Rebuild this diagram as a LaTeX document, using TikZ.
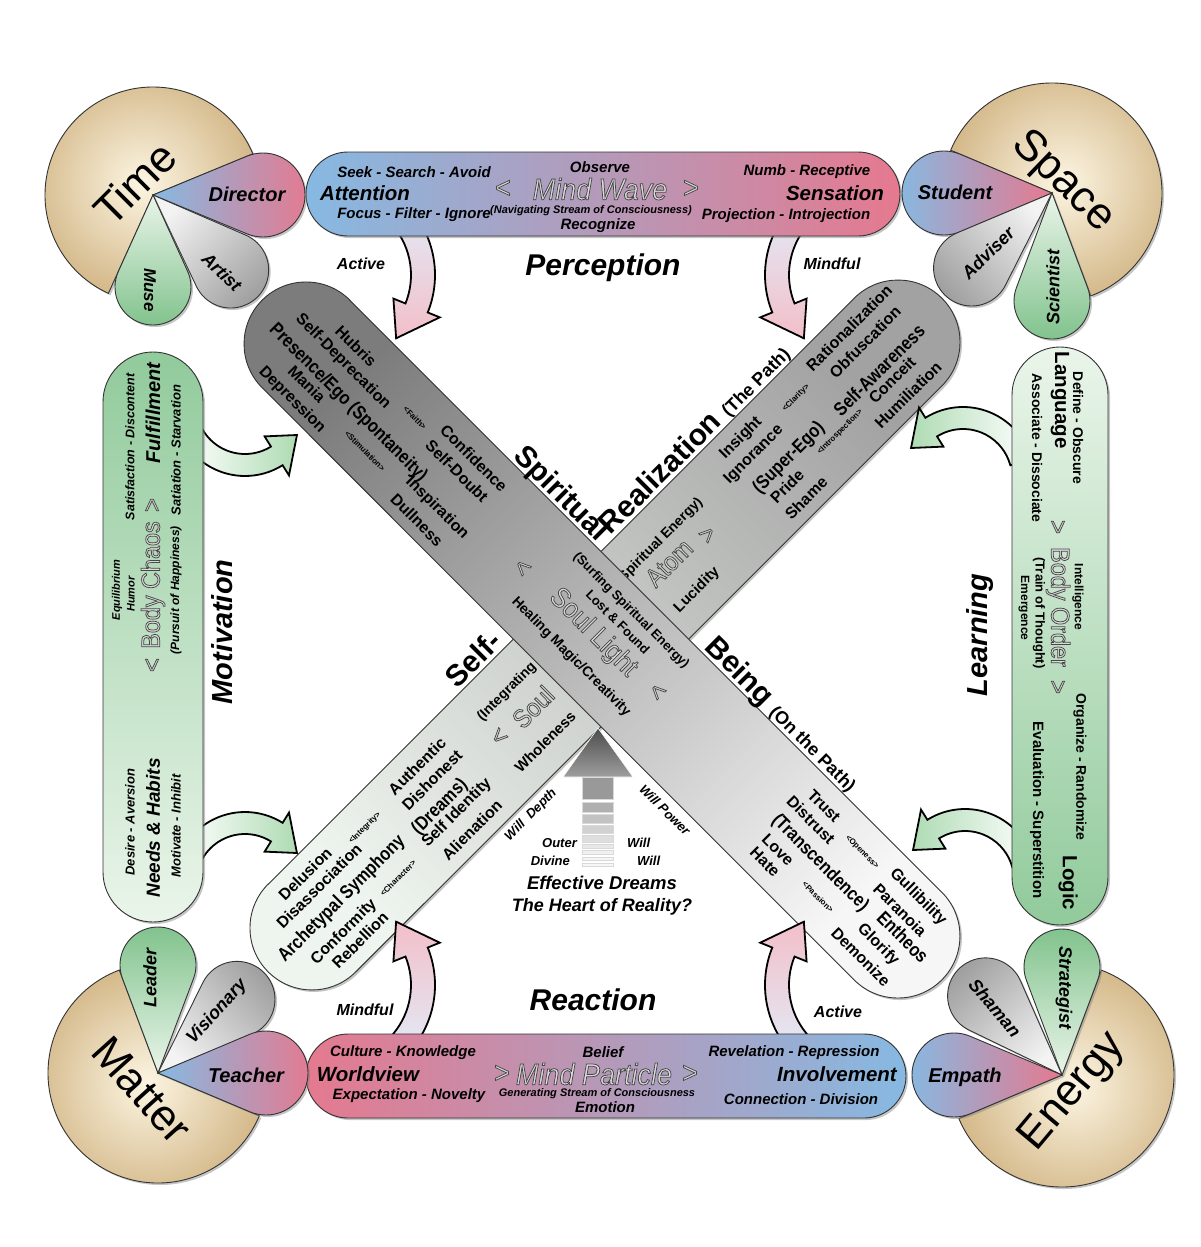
\documentclass[tikz,border=0pt]{standalone}
\usepackage{fontspec}
\setmainfont{Liberation Sans}
\newfontfamily\cf[FakeStretch=0.85]{Liberation Sans}
\newfontfamily\of[FakeStretch=0.9]{Liberation Sans}
\usetikzlibrary{calc,shadows}
\newcommand{\fz}[1]{\fontsize{#1}{#1}\selectfont}
\definecolor{tanL}{HTML}{FCF5E2}
\definecolor{tanD}{HTML}{D5BA8C}
\definecolor{blueP}{HTML}{86B9E2}
\definecolor{pinkP}{HTML}{E5798F}
\definecolor{grnL}{HTML}{EAF5EA}
\definecolor{grnD}{HTML}{7EC18A}
\definecolor{gryL}{HTML}{F3F3F3}
\definecolor{gryD}{HTML}{A0A0A0}
\definecolor{barAd}{HTML}{7C7C7C}
\definecolor{barAl}{HTML}{F6F6F6}
\definecolor{barBl}{HTML}{EEF4EE}
\definecolor{barBd}{HTML}{A2A2A2}
\definecolor{arPk}{HTML}{F2BFC9}
\definecolor{arBl}{HTML}{E3E9F5}
\definecolor{arGn}{HTML}{AEDBB3}
\definecolor{olL}{HTML}{DADADA}
\tikzset{
  bi/.style={font=\bfseries\itshape\fz{#1}, inner sep=0pt},
  bd/.style={font=\bfseries\fz{#1}, inner sep=0pt},
  bc/.style={font=\cf\bfseries\fz{#1}, inner sep=0pt},
  rg/.style={font=\fz{#1}, inner sep=0pt},
  ol/.style={draw=black!80, line width=0.9pt},
  shd/.style={drop shadow={shadow xshift=2pt, shadow yshift=-2pt, opacity=0.45}},
  arw/.style={draw=black, line width=1.8pt, line join=miter},
  pbp/.style={left color=blueP, right color=pinkP},
  pgr/.style={top color=gryD, bottom color=gryL, shading angle=#1},
  pgn/.style={top color=grnD, bottom color=grnL, shading angle=#1},
  tan/.style={inner color=tanL, outer color=tanD},
}
% outlined (stroked + filled) text
\newcommand{\otext}[1]{{\color{olL}\special{pdf:literal direct 0.28 0.28 0.28 RG 0.75 w 2 Tr}#1\special{pdf:literal direct 0 Tr}}}
% outlined text node: x, y, rotate, font, text
\newcommand{\olt}[5]{\node[rotate=#3, font={#4}, inner sep=0pt] at (#1,#2) {\otext{#5}};}
% petal: x, y, visual angle, length, end radius, style
\newcommand{\petal}[6]{%
  \pgfmathsetmacro\pa{-(#3)}%
  \pgfmathsetmacro\ph{asin((#5)/(#4))}%
  \pgfmathsetmacro\sa{\pa+90+\ph}%
  \pgfmathsetmacro\ea{\pa-90-\ph}%
  \path[ol,shd,#6] (#1,#2) -- ($(#1,#2)+(\pa:#4)+(\sa:#5)$)
     arc[start angle=\sa, end angle=\ea, radius=#5] -- cycle;}
% pie: x, y, r, visual start, visual end, style
\newcommand{\pie}[6]{%
  \path[ol,shd,#6] (#1,#2) -- ($(#1,#2)+({-(#4)}:#3)$)
     arc[start angle={-(#4)}, end angle={-(#5)}, radius=#3] -- cycle;}
% curved block arrow: cx, cy, r, start, head base, tip, half shaft, half head, style
\newcommand{\carrow}[9]{%
  \path[#9] ($(#1,#2)+(#4:{#3+#7})$) arc[start angle=#4, end angle=#5, radius={#3+#7}]
   -- ($(#1,#2)+(#5:{#3+#8})$) -- ($(#1,#2)+(#6:#3)$) -- ($(#1,#2)+(#5:{#3-#8})$)
   -- ($(#1,#2)+(#5:{#3-#7})$) arc[start angle=#5, end angle=#4, radius={#3-#7}] -- cycle;}

\begin{document}
\begin{tikzpicture}[x=1pt,y=-1pt]
\useasboundingbox (0,0) rectangle (1200,1247);
\fill[white] (0,0) rectangle (1200,1247);

% ================= diagonal bar B (bottom-left to top-right)
\path[ol,shd,top color=barBd, bottom color=barBl, shading angle=-45]
  (268.2,884.2) -- (854.2,298.2) arc[start angle=225, end angle=405, radius=62]
  -- (355.8,971.8) arc[start angle=45, end angle=225, radius=62] -- cycle;
\node[bd=16, rotate=45] (authentic) at (417,766) {Authentic};
\node[bd=16, rotate=45] at (432,780) {Dishonest};
\node[bc=19, rotate=45] at (440,807) {(Dreams)};
\node[bd=16, rotate=45] at (457,813) {Self Identity};
\node[bd=16, rotate=45] at (472,830) {Alienation};
\node[bd=16, rotate=45] at (305,874) {Delusion};
\node[bd=8, rotate=45] at (365,828) {<Integrity>};
\node[bd=16, rotate=45] at (319,886) {Disassociation};
\node[bc=19, rotate=45] at (342,899) {Archetypal Symphony};
\node[bd=16, rotate=45] at (344,932) {Conformity};
\node[bd=8, rotate=45] at (398,878) {<Character>};
\node[bd=16, rotate=45] at (360,940) {Rebellion};
\node[bd=14, rotate=45] at (507,692) {(Integrating};
\olt{500}{737}{45}{\of\fz{26}}{<}
\olt{533}{707}{45}{\of\fz{26}}{Soul}
\node[bd=15, rotate=45] at (545,742) {Wholeness};
\node[bd=14, rotate=45] at (661,540) {Spiritual Energy)};
\olt{669}{563}{45}{\of\fz{26}}{Atom}
\olt{708}{535}{45}{\of\fz{26}}{>}
\node[bd=15, rotate=45] at (697,590) {Lucidity};
\node[bd=16, rotate=45] at (741,438) {Insight};
\node[bd=16, rotate=45] at (754,455) {Ignorance};
\node[bd=8, rotate=45] at (796,398) {<Clarity>};
\node[bc=19, rotate=45] at (789,458) {(Super-Ego)};
\node[bc=19, rotate=45] at (879,370) {Self-Awareness};
\node[bd=16, rotate=45] at (849,328) {Rationalization};
\node[bd=16, rotate=45] at (865,342) {Obfuscation};
\node[bd=16, rotate=45] at (892,380) {Conceit};
\node[bd=16, rotate=45] at (787,486) {Pride};
\node[bd=8, rotate=45] at (840,432) {<Introspection>};
\node[bd=16, rotate=45] at (806,498) {Shame};
\node[bd=16, rotate=45] at (908,395) {Humiliation};

% ================= diagonal bar A (top-left to bottom-right)
\path[ol,shd,top color=barAd, bottom color=barAl, shading angle=45]
  (349.8,300.2) -- (941.8,892.2) arc[start angle=-45, end angle=135, radius=62]
  -- (262.2,387.8) arc[start angle=135, end angle=315, radius=62] -- cycle;
\node[bd=16, rotate=-45] at (356,346) {Hubris};
\node[bd=16, rotate=-45] at (343,362) {Self-Deprecation};
\node[bc=19, rotate=-45] (presence) at (348,403) {Presence/Ego (Spontaneity)};
\node[bd=16, rotate=-45] at (307,384) {Mania};
\node[bd=16, rotate=-45] at (292,400) {Depression};
\node[bd=8, rotate=-45] at (415,418) {<Faith>};
\node[bd=16, rotate=-45] at (474,458) {Confidence};
\node[bd=16, rotate=-45] at (457,471) {Self-Doubt};
\node[bd=8, rotate=-45] at (365,451) {<Stimulation>};
\node[bd=16, rotate=-45] at (437,508) {Inspiration};
\node[bd=16, rotate=-45] at (417,520) {Dullness};
\olt{522}{568}{-45}{\of\fz{26}}{<}
\olt{593}{633}{-45}{\of\fz{28}}{Soul Light}
\olt{657}{692}{-45}{\of\fz{26}}{<}
\node[bd=13, rotate=-45] at (631,611) {(Surfing Spiritual Energy)};
\node[bd=13, rotate=-45] at (618,622) {Lost \& Found};
\node[bd=14, rotate=-45] at (571,657) {Healing Magic/Creativity};
\node[bd=16, rotate=-45] at (824,806) {Trust};
\node[bd=16, rotate=-45] at (811,820) {Distrust};
\node[bc=19, rotate=-45] at (820,863) {(Transcendence)};
\node[bd=16, rotate=-45] at (778,850) {Love};
\node[bd=16, rotate=-45] at (765,862) {Hate};
\node[bd=8, rotate=-45] at (862,852) {<Openess>};
\node[bd=16, rotate=-45] at (918,897) {Gullibility};
\node[bd=16, rotate=-45] at (900,910) {Paranoia};
\node[bc=19, rotate=-45] at (903,937) {Entheos};
\node[bd=8, rotate=-45] at (818,897) {<Passion>};
\node[bd=16, rotate=-45] at (878,945) {Glorify};
\node[bd=16, rotate=-45] at (861,957) {Demonize};

% labels along the X
\node[bd=30, rotate=-45, anchor=base east] (spiritual) at (597.7,542.3) {Spiritual};
\node[bd=30, rotate=45, anchor=base west] (realization) at (610.8,535.8) {Realization {\fz{18}(The Path)}};
\node[bd=30, rotate=45, anchor=base east] (self) at (503.3,643.3) {Self-};
\node[bd=30, rotate=-45, anchor=base west] (being) at (703.7,648.3) {Being {\fz{18}(On the Path)}};

% ================= curved arrows
\carrow{335}{275}{88}{-40}{22}{46}{12}{25}{arw, top color=arBl, bottom color=arPk}
\carrow{865}{275}{88}{220}{158}{134}{12}{25}{arw, top color=arBl, bottom color=arPk}
\carrow{335}{985}{88}{40}{-22}{-46}{12}{25}{arw, top color=arPk, bottom color=arBl}
\carrow{865}{985}{88}{140}{202}{226}{12}{25}{arw, top color=arPk, bottom color=arBl}
\carrow{245}{405}{60}{150}{58}{30}{11}{23}{arw, left color=white, right color=arGn}
\carrow{245}{883}{60}{-150}{-58}{-30}{11}{23}{arw, left color=white, right color=arGn}
\carrow{963}{478}{60}{-15}{-122}{-150}{11}{23}{arw, left color=arGn, right color=white}
\carrow{965}{880}{60}{-15}{-122}{-150}{11}{23}{arw, left color=arGn, right color=white}

% ================= four bars
\path[ol,shd,left color=blueP, right color=pinkP, rounded corners=42] (306,152) rectangle (900,236);
\path[ol,shd,left color=pinkP, right color=blueP, rounded corners=42] (306,1034) rectangle (906,1118);
\path[ol,shd,top color=grnD!85, bottom color=grnL, rounded corners=50] (103,352) rectangle (203,922);
\path[ol,shd,top color=grnL, bottom color=grnD!85, rounded corners=48] (1012,347) rectangle (1108,925);

% top bar text
\node[bi=15] at (414,172) {Seek - Search - Avoid};
\node[bi=20.5] (attention) at (365,193) {Attention};
\node[bi=15] at (414,215) {Focus - Filter - Ignore};
\node[bi=15] at (600,167) {Observe};
\olt{503}{189}{0}{\of\fz{30}}{<}
\olt{600}{189}{0}{\of\itshape\fz{30}}{Mind Wave}
\olt{691}{189}{0}{\of\fz{30}}{>}
\node[bi=11] at (591,211) {(Navigating Stream of Consciousness)};
\node[bi=15] at (598,226) {Recognize};
\node[bi=15] at (807,172) {Numb - Receptive};
\node[bi=20.5] (sensation) at (835,193) {Sensation};
\node[bi=15] at (786,216) {Projection - Introjection};

% bottom bar text
\node[bi=15] at (403,1053) {Culture - Knowledge};
\node[bi=20.5] (worldview) at (368,1074) {Worldview};
\node[bi=15] at (409,1096) {Expectation - Novelty};
\node[bi=15] at (603,1052) {Belief};
\olt{502}{1074}{0}{\of\fz{30}}{>}
\olt{594}{1074}{0}{\of\itshape\fz{30}}{Mind Particle}
\olt{690}{1074}{0}{\of\fz{30}}{>}
\node[bi=11] at (597,1094) {Generating Stream of Consciousness};
\node[bi=15] at (605,1107) {Emotion};
\node[bi=15] at (794,1053) {Revelation - Repression};
\node[bi=20.5] (involvement) at (837,1074) {Involvement};
\node[bi=15] at (801,1099) {Connection - Division};

% left bar text
\node[bi=20, rotate=90] (fulfillment) at (153,413) {Fulfillment};
\node[bi=12.5, rotate=90] at (130,447) {Satisfaction - Discontent};
\node[bi=13, rotate=90] at (176,450) {Satiation - Starvation};
\olt{153}{505}{90}{\of\fz{26}}{>}
\olt{153}{585}{90}{\of\fz{26}}{Body Chaos}
\node[bi=12, rotate=90] at (176,590) {(Pursuit of Happiness)};
\node[bi=11, rotate=90] at (117,590) {Equilibrium};
\node[bi=11, rotate=90] at (131,594) {Humor};
\olt{153}{665}{90}{\of\fz{26}}{<}
\node[bi=13, rotate=90] at (130,822) {Desire - Aversion};
\node[bi=19, rotate=90] (needs) at (153,828) {Needs \& Habits};
\node[bi=13, rotate=90] at (176,826) {Motivate - Inhibit};

% right bar text
\node[bd=20.5, rotate=-90] (language) at (1060,400) {Language};
\node[bd=14, rotate=-90] at (1078,428) {Define - Obscure};
\node[bd=14, rotate=-90] at (1037,448) {Associate - Dissociate};
\olt{1057}{527}{-90}{\of\fz{26}}{>}
\node[bd=12, rotate=-90] at (1078,597) {Intelligence};
\olt{1058}{607}{-90}{\of\fz{26}}{Body Order}
\node[bd=13, rotate=-90] at (1039,613) {(Train of Thought)};
\node[bd=12, rotate=-90] at (1024,608) {Emergence};
\olt{1057}{687}{-90}{\of\fz{26}}{>}
\node[bd=14, rotate=-90] at (1080,767) {Organize - Randomize};
\node[bd=20.5, rotate=-90] (logic) at (1068,883) {Logic};
\node[bd=15, rotate=-90] at (1037,810) {Evaluation - Superstition};

% ================= corners
% Time
\pie{153}{195}{108}{22.4}{245.6}{tan}
\petal{153}{195}{0}{110}{42}{pbp}
\petal{153}{195}{-44}{108}{38}{pgr=-134}
\petal{153}{195}{-90}{92}{38}{pgn=-180}
\node[rg=44, rotate=45] (time) at (135,183) {Time};
\node[bi=20] (director) at (247,194) {Director};
\node[bi=18, rotate=-44] (artist) at (222,272) {Artist};
\node[bi=17, rotate=-90] (muse) at (150,290) {Muse};
% Space
\pie{1052}{193}{110}{-69.4}{157.1}{tan}
\petal{1052}{193}{180}{108}{42}{pbp}
\petal{1052}{193}{-137}{110}{38}{pgr=-227}
\petal{1052}{193}{-90}{108}{38}{pgn=-180}
\node[rg=44, rotate=-44] (space) at (1063,182) {Space};
\node[bi=20] (student) at (955,192) {Student};
\node[bi=18, rotate=45] (adviser) at (988,253) {Adviser};
\node[bi=18, rotate=90] (scientist) at (1053,287) {Scientist};
% Matter
\pie{158}{1073}{110}{110.6}{337.1}{tan}
\petal{158}{1073}{90}{108}{38}{pgn=0}
\petal{158}{1073}{43}{108}{38}{pgr=-47}
\petal{158}{1073}{0}{108}{42}{pbp}
\node[rg=44, rotate=-48] (matter) at (142,1090) {Matter};
\node[bi=18, rotate=90] (leader) at (150,978) {Leader};
\node[bi=18, rotate=48] (visionary) at (217,1012) {Visionary};
\node[bi=20] (teacher) at (246,1075) {Teacher};
% Energy
\pie{1062}{1075}{112}{202.9}{429.4}{tan}
\petal{1062}{1075}{90}{108}{38}{pgn=0}
\petal{1062}{1075}{134}{110}{38}{pgr=44}
\petal{1062}{1075}{180}{108}{42}{pbp}
\node[rg=44, rotate=50] (energy) at (1073,1092) {Energy};
\node[bi=18, rotate=-90] (strategist) at (1064,988) {Strategist};
\node[bi=18, rotate=-50] (shaman) at (995,1008) {Shaman};
\node[bi=20] (empath) at (965,1077) {Empath};

% ================= central up arrow
\path[shade, top color=black!70, bottom color=black!38, draw=white, line width=0.6pt]
  (598,728) -- (633,777) -- (563,777) -- cycle;
\foreach \ya/\yb/\g in {777/799/40, 802/812/31, 814/823/24, 825/833/18, 835/842/13, 844/848/9, 850/854/6, 857/860/4, 863/866/3}{
  \path[fill=black!\g, draw=black!15, line width=0.5pt] (582,\ya) rectangle (613,\yb);}

% ================= free labels
\node[bi=30] (perception) at (603,268) {Perception};
\node[bi=30] (reaction) at (593,1000) {Reaction};
\node[bi=29, rotate=90] (motivation) at (222,632) {Motivation};
\node[bi=29, rotate=90] (learning) at (980,635) {Learning};
\node[bi=16] at (361,264) {Active};
\node[bi=16] at (832,264) {Mindful};
\node[bi=16] at (365,1010) {Mindful};
\node[bi=16] at (838,1012) {Active};
\node[bi=13, rotate=45] at (531,815) {Will\ \ Depth};
\node[bi=13, rotate=-45] at (665,810) {Will Power};
\node[bi=13, anchor=east] at (577,843) {Outer};
\node[bi=13, anchor=east] at (570,861) {Divine};
\node[bi=13, anchor=west] at (627,843) {Will};
\node[bi=13, anchor=west] at (637,861) {Will};
\node[bi=18.5] (dreams) at (602,883) {Effective Dreams};
\node[bi=18] (heart) at (602,907) {The Heart of Reality?};
\end{tikzpicture}
\end{document}
